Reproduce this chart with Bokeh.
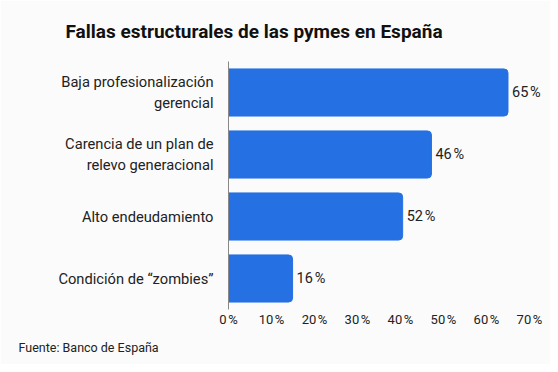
from bokeh.plotting import figure
from bokeh.models import Range1d, FactorRange, FixedTicker, CustomJSTickFormatter, LabelSet, ColumnDataSource, Title
from bokeh.core.properties import value
from bokeh.embed import file_html
from bokeh.resources import INLINE

categories = ["Baja profesionalización\ngerencial", "Carencia de un plan de\nrelevo generacional",
              "Alto endeudamiento", "Condición de “zombies”"]
bar_values = [65, 47.2, 40.5, 14.9]
value_labels = ["65\u202f%", "46\u202f%", "52\u202f%", "16\u202f%"]
ticks = [0, 10, 20, 30, 40, 50, 60, 70]
title_text = "Fallas estructurales de las pymes en España"
source_text = "Fuente: Banco de España"

FONT = "Roboto"
BLUE = "#2571e3"
BG = "#fbfbfb"

p = figure(width=550, height=364, output_backend="svg", toolbar_location=None,
           y_range=FactorRange(*list(reversed(categories)), range_padding=0),
           x_range=Range1d(0, 74.42),
           min_border_left=228, min_border_right=2, min_border_top=61, min_border_bottom=55,
           background_fill_color=BG, border_fill_color=BG, outline_line_color=None)

src = ColumnDataSource(dict(cat=categories, val=bar_values, lab=value_labels))
p.hbar(y="cat", right="val", left=0, height=0.76, source=src, color=BLUE,
       border_radius=(0, 4, 4, 0))

p.add_layout(LabelSet(x="val", y="cat", text="lab", source=src, x_offset=4,
                      text_font=value(FONT), text_font_size="14.5px", text_color="#222222",
                      text_baseline="middle"))

p.grid.visible = False
xa = p.xaxis[0]
xa.ticker = FixedTicker(ticks=ticks)
xa.formatter = CustomJSTickFormatter(code="return tick + '\u202f%';")
xa.axis_line_color = None
xa.major_tick_line_color = None
xa.minor_tick_line_color = None
xa.major_label_standoff = -4
xa.major_label_text_font = FONT
xa.major_label_text_font_size = "13px"
xa.major_label_text_color = "#222222"

ya = p.yaxis[0]
ya.axis_line_color = "#888888"
ya.major_tick_line_color = None
ya.minor_tick_line_color = None
ya.major_label_standoff = 9
ya.major_label_text_font = FONT
ya.major_label_text_font_size = "14.7px"
ya.major_label_text_line_height = 1.15
ya.major_label_text_color = "#222222"
ya.major_label_text_align = "right"

spacer = Title(text=" ", text_font=FONT, text_font_size="2px")
p.add_layout(spacer, "above")
p.add_layout(Title(text=title_text, align="left", offset=-163,
                   text_font=FONT, text_font_size="19px", text_font_style="bold", text_color="#111111"),
             "above")

p.add_layout(Title(text=source_text, align="left", offset=-210, standoff=17, text_font=FONT,
                   text_font_size="12.5px", text_font_style="normal", text_color="#222222"), "below")

open("out.html", "w").write(file_html(p, INLINE))
